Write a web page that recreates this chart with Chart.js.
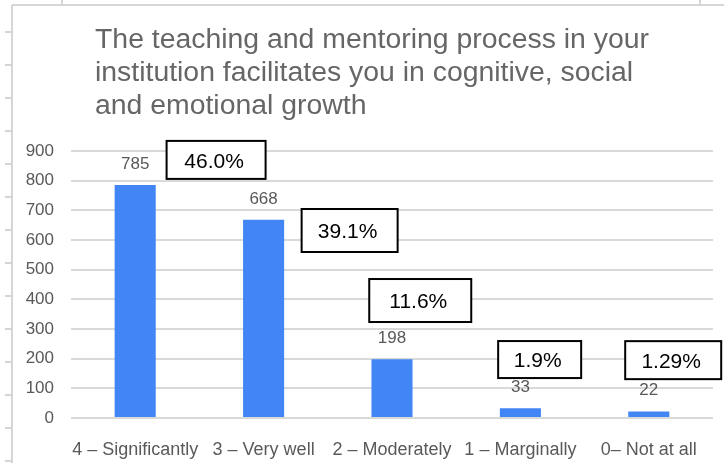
<!DOCTYPE html>
<html lang="en">
<head>
  <meta charset="UTF-8">
  <title>Teaching and mentoring</title>
  <script src="https://cdn.jsdelivr.net/npm/chart.js@4.4.1/dist/chart.umd.min.js"></script>
  <style>
    html, body { margin: 0; padding: 0; background: #fff; }
    #wrap { width: 724px; height: 463px; position: relative; }
  </style>
</head>
<body>
  <div id="wrap">
    <canvas id="chart" width="724" height="463"></canvas>
  </div>

  <script>
    // data
    var categories = ["4 – Significantly", "3 – Very well", "2 – Moderately", "1 – Marginally", "0– Not at all"];
    var counts = [785, 668, 198, 33, 22];
    var percentLabels = ["46.0%", "39.1%", "11.6%", "1.9%", "1.29%"];
    var yTicks = [0, 100, 200, 300, 400, 500, 600, 700, 800, 900];

    var titleLines = [
      "The teaching and mentoring process in your",
      "institution facilitates you in cognitive, social",
      "and emotional growth"
    ];

    // where the percent boxes sit: offset in categories, height in axis units, box size
    var boxOffset = [0.63, 0.67, 0.22, 0.15, 0.19];
    var boxLevel = [870, 632, 396, 197, 195];
    var boxW = [99, 96, 102, 83, 96];
    var boxH = [38, 43, 43, 37, 38];

    var FONT = "'Liberation Sans', Arial, sans-serif";

    // spreadsheet frame behind the chart, plus the title
    var sheetFrame = {
      id: "sheetFrame",
      beforeDraw: function (chart) {
        var ctx = chart.ctx;
        ctx.save();
        ctx.strokeStyle = "#d6d6d6";
        ctx.lineWidth = 2;
        ctx.beginPath();
        ctx.moveTo(12, 5); ctx.lineTo(12, 463);
        ctx.moveTo(12, 5); ctx.lineTo(724, 5);
        for (var y = 32; y < 463; y += 33) {
          ctx.moveTo(5, y); ctx.lineTo(12, y);
        }
        ctx.moveTo(62, 0); ctx.lineTo(62, 5);
        ctx.moveTo(700, 0); ctx.lineTo(700, 5);
        ctx.stroke();

        ctx.fillStyle = "#666666";
        ctx.font = "28.4px " + FONT;
        ctx.textAlign = "left";
        ctx.textBaseline = "alphabetic";
        titleLines.forEach(function (t, i) {
          ctx.fillText(t, 95, 48 + i * 33);
        });
        ctx.restore();
      }
    };

    var labelsPlugin = {
      id: "labelsPlugin",
      afterDatasetsDraw: function (chart) {
        var ctx = chart.ctx;
        var xs = chart.scales.x, ys = chart.scales.y;
        var bars = chart.getDatasetMeta(0).data;
        ctx.save();
        // counts above bars
        ctx.fillStyle = "#595959";
        ctx.font = "17px " + FONT;
        ctx.textAlign = "center";
        ctx.textBaseline = "middle";
        bars.forEach(function (b, i) {
          ctx.fillText(String(counts[i]), b.x, b.y - 21);
        });
        // percent boxes
        ctx.font = "21px " + FONT;
        for (var i = 0; i < percentLabels.length; i++) {
          var cx = xs.getPixelForValue(i + boxOffset[i]);
          var cy = ys.getPixelForValue(boxLevel[i]);
          var w = boxW[i], h = boxH[i];
          ctx.fillStyle = "#ffffff";
          ctx.fillRect(cx - w / 2, cy - h / 2, w, h);
          ctx.strokeStyle = "#000000";
          ctx.lineWidth = 2;
          ctx.strokeRect(cx - w / 2, cy - h / 2, w, h);
          ctx.fillStyle = "#000000";
          ctx.fillText(percentLabels[i], cx - 2, cy + 2);
        }
        ctx.restore();
      }
    };

    new Chart(document.getElementById("chart"), {
      type: "bar",
      data: {
        labels: categories,
        datasets: [{
          data: counts,
          backgroundColor: "#4285f4",
          categoryPercentage: 1,
          barPercentage: 0.32
        }]
      },
      options: {
        responsive: false,
        animation: false,
        layout: { padding: { left: 0, top: 151, right: 11, bottom: 0 } },
        plugins: {
          legend: { display: false },
          tooltip: { enabled: false },
          title: { display: false }
        },
        scales: {
          x: {
            grid: { display: false },
            border: { display: false },
            ticks: { color: "#595959", font: { family: FONT, size: 18 }, padding: 13, maxRotation: 0, autoSkip: false },
            afterFit: function (s) { s.height = 45; }
          },
          y: {
            min: 0,
            max: 900,
            afterBuildTicks: function (s) { s.ticks = yTicks.map(function (v) { return { value: v }; }); },
            grid: { color: "#d9d9d9", lineWidth: 2, drawTicks: false },
            border: { display: false },
            ticks: { color: "#595959", font: { family: FONT, size: 17 }, padding: 17 },
            afterFit: function (s) { s.width = 71; }
          }
        }
      },
      plugins: [sheetFrame, labelsPlugin]
    });
  </script>
</body>
</html>
